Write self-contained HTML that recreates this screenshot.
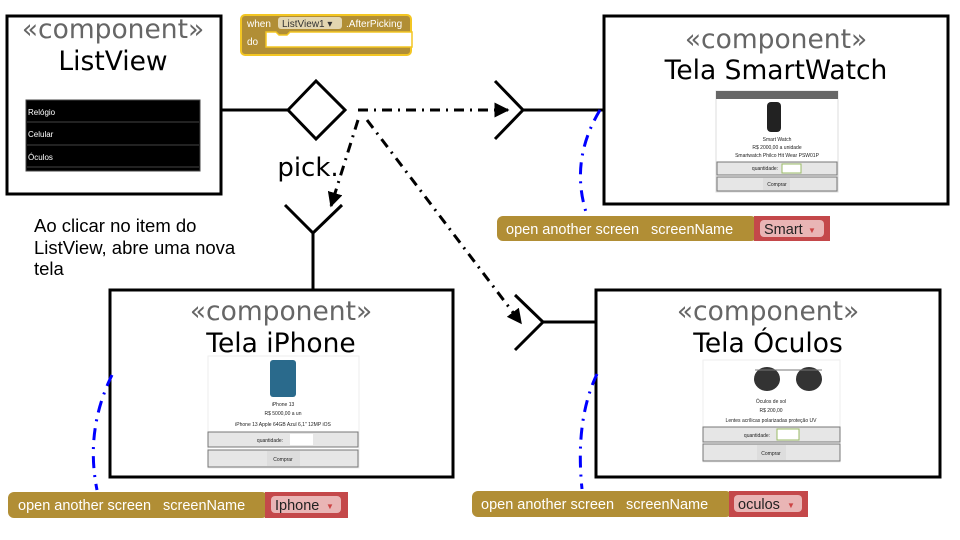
<!DOCTYPE html>
<html><head><meta charset="utf-8"><style>
body{margin:0;background:#fff;width:960px;height:540px;overflow:hidden;font-family:"Liberation Sans",sans-serif}
svg{position:absolute;left:0;top:0}
text{font-family:"Liberation Sans",sans-serif}
.d,.d text{font-family:"DejaVu Sans",sans-serif}
</style></head><body>
<svg width="960" height="540" viewBox="0 0 960 540">
<defs>
<marker id="ah" viewBox="0 0 10 10" refX="9" refY="5" markerWidth="5" markerHeight="5" orient="auto"><path d="M0,0L10,5L0,10z" fill="#000"/></marker>
</defs>
<rect x="7" y="16" width="214" height="178" fill="#fff" stroke="#000" stroke-width="3"/>
<rect x="604" y="16" width="344" height="188" fill="#fff" stroke="#000" stroke-width="3"/>
<rect x="110" y="290" width="343" height="187" fill="#fff" stroke="#000" stroke-width="3"/>
<rect x="596" y="290" width="344" height="187" fill="#fff" stroke="#000" stroke-width="3"/>
<g class="d" font-size="26.5" text-anchor="middle">
<text x="113" y="38" fill="#666">«component»</text>
<text x="113" y="70">ListView</text>
<text x="776" y="48" fill="#666">«component»</text>
<text x="776" y="79">Tela SmartWatch</text>
<text x="281" y="320" fill="#666">«component»</text>
<text x="281" y="352">Tela iPhone</text>
<text x="768" y="320" fill="#666">«component»</text>
<text x="768" y="352">Tela Óculos</text>
</g>
<text class="d" x="308" y="176" font-size="26" text-anchor="middle">pick.</text>
<rect x="26" y="100" width="174" height="71" fill="#000" stroke="#444"/>
<line x1="27" y1="122" x2="199" y2="122" stroke="#444"/>
<line x1="27" y1="145" x2="199" y2="145" stroke="#444"/>
<line x1="27" y1="167" x2="199" y2="167" stroke="#444"/>
<g font-size="8" fill="#fff"><text x="28" y="115">Relógio</text><text x="28" y="137">Celular</text><text x="28" y="160">Óculos</text></g>
<rect x="241" y="15" width="170" height="40" rx="4" fill="#b18e35" stroke="#f3c623" stroke-width="2"/>
<path d="M266,32h10l3,3h8l3,-3h122v15h-146z" fill="#fff" stroke="#f3c623" stroke-width="1.5"/>
<rect x="278" y="17" width="64" height="12" rx="3" fill="#e3d6b0"/>
<text x="247" y="27" font-size="10" fill="#fff">when</text>
<text x="282" y="27" font-size="10" fill="#333">ListView1 ▾</text>
<text x="346" y="27" font-size="10" fill="#fff">.AfterPicking</text>
<text x="247" y="45" font-size="10" fill="#fff">do</text>
<line x1="221" y1="110" x2="288" y2="110" stroke="#000" stroke-width="3"/>
<path d="M288,110L316,81L345,110L316,139z" fill="#fff" stroke="#000" stroke-width="3"/>
<g stroke="#000" stroke-width="3" fill="none" stroke-dasharray="10,6,2,6">
<line x1="358" y1="110" x2="508" y2="110" marker-end="url(#ah)"/>
<line x1="358" y1="120" x2="331" y2="206" marker-end="url(#ah)"/>
<line x1="367" y1="120" x2="521" y2="323" marker-end="url(#ah)"/>
</g>
<g stroke="#000" stroke-width="3" fill="none">
<path d="M495,81L523,110L495,139M523,110H604"/>
<path d="M285,205L313,233L342,205M313,233V290"/>
<path d="M515,295L543,322L515,350M543,322H596"/>
</g>
<g stroke="#00f" stroke-width="3" fill="none" stroke-dasharray="12,7,2,7">
<path d="M600,110Q570,160 586,212"/>
<path d="M112,375Q85,430 97,490"/>
<path d="M597,374Q575,420 582,489"/>
</g>
<text x="34" y="232" font-size="18.5">Ao clicar no item do</text>
<text x="34" y="254" font-size="18.5">ListView, abre uma nova</text>
<text x="34" y="275" font-size="18.5">tela</text>
<g font-size="14.5">
<rect x="497" y="216" width="260" height="25" rx="6" fill="#b18e35"/>
<rect x="754" y="216" width="76" height="25" fill="#c4484a"/>
<rect x="760" y="220" width="64" height="17" rx="4" fill="#e9b5b5"/>
<text x="506" y="234" fill="#fff">open another screen</text><text x="651" y="234" fill="#fff">screenName</text>
<text x="764" y="234" fill="#222">Smart</text><text x="808" y="233" font-size="8" fill="#c44">▼</text>
<rect x="8" y="492" width="260" height="26" rx="6" fill="#b18e35"/>
<rect x="265" y="492" width="83" height="26" fill="#c4484a"/>
<rect x="271" y="496" width="70" height="17" rx="4" fill="#e9b5b5"/>
<text x="18" y="510" fill="#fff">open another screen</text><text x="163" y="510" fill="#fff">screenName</text>
<text x="275" y="510" fill="#222">Iphone</text><text x="326" y="509" font-size="8" fill="#c44">▼</text>
<rect x="472" y="491" width="260" height="26" rx="6" fill="#b18e35"/>
<rect x="729" y="491" width="79" height="26" fill="#c4484a"/>
<rect x="734" y="495" width="68" height="17" rx="4" fill="#e9b5b5"/>
<text x="481" y="509" fill="#fff">open another screen</text><text x="626" y="509" fill="#fff">screenName</text>
<text x="738" y="509" fill="#222">oculos</text><text x="787" y="508" font-size="8" fill="#c44">▼</text>
</g>
<g font-size="5" text-anchor="middle" fill="#222">
<rect x="716" y="91" width="122" height="101" fill="#fff" stroke="#ddd"/>
<rect x="716" y="91" width="122" height="8" fill="#666"/>
<rect x="767" y="102" width="14" height="30" rx="4" fill="#222"/>
<text x="777" y="141">Smart Watch</text><text x="777" y="149">R$ 2000,00 a unidade</text><text x="777" y="157">Smartwatch Philco Hit Wear PSW01P</text>
<rect x="717" y="162" width="120" height="13" fill="#e6e6e6" stroke="#777"/>
<rect x="782" y="164" width="19" height="9" fill="#fff" stroke="#9b6"/><text x="765" y="170">quantidade:</text>
<rect x="717" y="177" width="120" height="14" fill="#e6e6e6" stroke="#777"/>
<rect x="763" y="178" width="27" height="12" fill="#ddd"/><text x="777" y="186">Comprar</text>
<rect x="208" y="356" width="151" height="112" fill="#fff" stroke="#eee"/>
<rect x="270" y="360" width="26" height="37" rx="3" fill="#2a6a8c"/>
<text x="283" y="406">iPhone 13</text><text x="283" y="415">R$ 5000,00 a un</text><text x="283" y="426">iPhone 13 Apple 64GB Azul 6,1" 12MP iOS</text>
<rect x="208" y="432" width="150" height="15" fill="#e6e6e6" stroke="#777"/>
<rect x="290" y="434" width="23" height="11" fill="#fff"/><text x="270" y="442">quantidade:</text>
<rect x="208" y="450" width="150" height="17" fill="#e6e6e6" stroke="#777"/>
<rect x="267" y="451" width="33" height="15" fill="#ddd"/><text x="283" y="461">Comprar</text>
<rect x="703" y="360" width="137" height="102" fill="#fff" stroke="#eee"/>
<ellipse cx="767" cy="379" rx="13" ry="12" fill="#333"/><ellipse cx="809" cy="379" rx="13" ry="12" fill="#333"/>
<line x1="755" y1="370" x2="822" y2="370" stroke="#777"/>
<text x="771" y="403">Óculos de sol</text><text x="771" y="412">R$ 200,00</text><text x="771" y="422">Lentes acrílicas polarizadas proteção UV</text>
<rect x="703" y="427" width="137" height="15" fill="#e6e6e6" stroke="#777"/>
<rect x="777" y="429" width="22" height="11" fill="#fff" stroke="#9b6"/><text x="757" y="437">quantidade:</text>
<rect x="703" y="444" width="137" height="17" fill="#e6e6e6" stroke="#777"/>
<rect x="757" y="445" width="29" height="15" fill="#ddd"/><text x="771" y="455">Comprar</text>
</g>
</svg>
</body></html>
